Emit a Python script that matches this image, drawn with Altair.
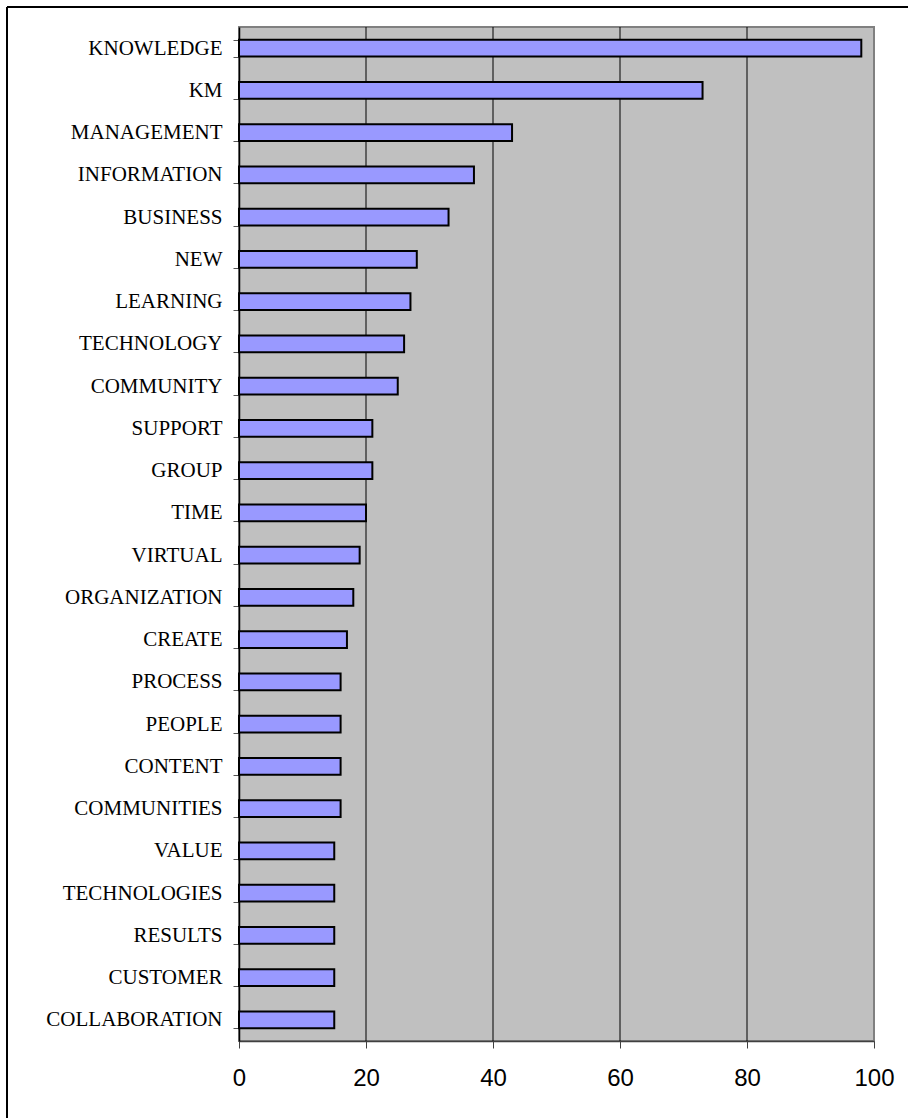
import altair as alt
import pandas as pd

words = ["KNOWLEDGE", "KM", "MANAGEMENT", "INFORMATION", "BUSINESS", "NEW",
         "LEARNING", "TECHNOLOGY", "COMMUNITY", "SUPPORT", "GROUP", "TIME",
         "VIRTUAL", "ORGANIZATION", "CREATE", "PROCESS", "PEOPLE", "CONTENT",
         "COMMUNITIES", "VALUE", "TECHNOLOGIES", "RESULTS", "CUSTOMER",
         "COLLABORATION"]
counts = [98, 73, 43, 37, 33, 28, 27, 26, 25, 21, 21, 20, 19, 18, 17, 16, 16,
          16, 16, 15, 15, 15, 15, 15]
x_ticks = [0, 20, 40, 60, 80, 100]
grid_values = [20, 40, 60, 80]

df = pd.DataFrame({"word": words, "count": counts})
grid_df = pd.DataFrame({"g": grid_values})

W, H = 635, 1014

x_scale = alt.Scale(domain=[0, 100], nice=False, zero=True)
x_axis = alt.Axis(
    values=x_ticks, grid=False, labelFont="Liberation Sans",
    labelFontSize=24, labelColor="black", labelPadding=18,
    tickSize=7, tickColor="#404040", domainColor="#404040",
    domainWidth=1.5, labelFlush=False,
)

grid = alt.Chart(grid_df).mark_rule(color="black", strokeWidth=1).encode(
    x=alt.X("g:Q", scale=x_scale, title=None, axis=x_axis)
)

bars = alt.Chart(df).mark_bar(
    fill="#9999FF", stroke="black", strokeWidth=2
).encode(
    y=alt.Y(
        "word:N", sort=words, title=None,
        scale=alt.Scale(paddingInner=0.6, paddingOuter=0.3),
        axis=alt.Axis(
            labelFont="Liberation Serif", labelFontSize=21, labelColor="black",
            labelPadding=11, tickSize=6, tickColor="#555555", tickWidth=1,
            tickBand="extent", domainColor="black", domainWidth=1.5,
            labelLimit=400,
        ),
    ),
    x=alt.X("count:Q", scale=x_scale, title=None, axis=x_axis),
)

frame_top = alt.Chart(grid_df).mark_rule(color="black", strokeWidth=2).encode(
    x=alt.value(-232), x2=alt.value(669), y=alt.value(-20)
)
frame_left = alt.Chart(grid_df).mark_rule(color="black", strokeWidth=2).encode(
    x=alt.value(-232), y=alt.value(-20), y2=alt.value(1091)
)

chart = alt.layer(grid, bars, frame_top, frame_left).properties(
    width=W, height=H,
    padding={"left": 239, "top": 27, "right": 34, "bottom": 77},
    autosize=alt.AutoSizeParams(type="none"),
    background="white",
).configure_view(
    fill="#C0C0C0", stroke="#808080", strokeWidth=2
)

chart.save("out.html", embed_options={"renderer": "svg", "actions": False})
